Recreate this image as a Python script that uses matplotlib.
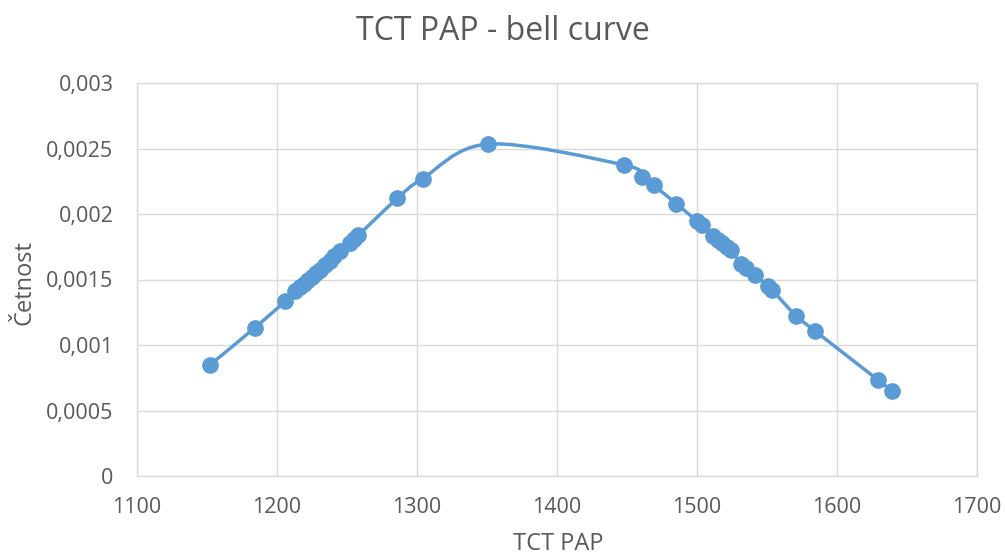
import matplotlib
matplotlib.use("Agg")
import matplotlib.pyplot as plt
from matplotlib.path import Path
from matplotlib.patches import PathPatch
from matplotlib.ticker import FixedLocator, FuncFormatter

plt.rcParams['font.family'] = ['Open Sans', 'DejaVu Sans']

title = "TCT PAP - bell curve"
x_label = "TCT PAP"
y_label = "Četnost"

tct_pap = [1152, 1184, 1206, 1213, 1216.4, 1219.3, 1222, 1225, 1228, 1231, 1234,
           1238, 1241, 1245, 1252, 1255, 1258, 1286, 1304, 1351, 1448, 1461,
           1469, 1485, 1500, 1503.6, 1511.4, 1515, 1517.9, 1521.4, 1524.3,
           1531.5, 1535, 1541.4, 1550.7, 1553.6, 1571, 1584, 1629.3, 1639.3]
cetnost = [0.000847, 0.00113, 0.001336, 0.00141, 0.001439, 0.001466, 0.001494,
           0.001521, 0.001549, 0.001576, 0.001611, 0.001645, 0.001679, 0.001714,
           0.001782, 0.00181, 0.001837, 0.00212, 0.00227, 0.002534, 0.002374,
           0.00228, 0.00222, 0.00208, 0.001947, 0.001916, 0.001832, 0.001802,
           0.001779, 0.001748, 0.001725, 0.001618, 0.001588, 0.001534, 0.00145,
           0.00142, 0.00122, 0.00111, 0.000733, 0.000649]

x_ticks = [1100, 1200, 1300, 1400, 1500, 1600, 1700]
y_ticks = [0, 0.0005, 0.001, 0.0015, 0.002, 0.0025, 0.003]

blue = "#5B9BD5"
grey_text = "#595959"
grid = "#D9D9D9"

fig = plt.figure(figsize=(10.05, 5.55), dpi=100)
ax = fig.add_axes([137/1005, 1 - 476/555, 840/1005, 393/555])

# Smoothed line (Catmull-Rom style Bezier, as Excel's smoothed scatter)
pts = list(zip(tct_pap, cetnost))
n = len(pts)
verts = [pts[0]]
codes = [Path.MOVETO]
for i in range(n - 1):
    p0 = pts[i - 1] if i > 0 else pts[i]
    p1 = pts[i]
    p2 = pts[i + 1]
    p3 = pts[i + 2] if i + 2 < n else pts[i + 1]
    c1 = (p1[0] + (p2[0] - p0[0]) / 6, p1[1] + (p2[1] - p0[1]) / 6)
    c2 = (p2[0] - (p3[0] - p1[0]) / 6, p2[1] - (p3[1] - p1[1]) / 6)
    verts += [c1, c2, p2]
    codes += [Path.CURVE4] * 3
ax.add_patch(PathPatch(Path(verts, codes), facecolor='none', edgecolor=blue,
                       lw=2.5, zorder=3, capstyle='round', joinstyle='round'))
ax.plot(tct_pap, cetnost, linestyle='none', marker='o', markersize=11,
        color=blue, zorder=4)

ax.set_xlim(1100, 1700)
ax.set_ylim(0, 0.003)
ax.xaxis.set_major_locator(FixedLocator(x_ticks))
ax.yaxis.set_major_locator(FixedLocator(y_ticks))

def fmt_y(v, pos):
    if v == 0:
        return "0"
    s = ("%.4f" % v).rstrip('0')
    return s.replace('.', ',')

ax.yaxis.set_major_formatter(FuncFormatter(fmt_y))
ax.xaxis.set_major_formatter(FuncFormatter(lambda v, p: "%d" % v))

ax.grid(True, color=grid, lw=1.0, zorder=0)
ax.set_axisbelow(True)
for s in ax.spines.values():
    s.set_color(grid)
    s.set_linewidth(1.0)
ax.tick_params(length=0, labelsize=15.5, colors=grey_text)
ax.tick_params(axis='x', pad=15)
ax.tick_params(axis='y', pad=17)

fig.text(558/1005, 1 - 544/555, x_label, ha='center', va='center',
         fontsize=17, color=grey_text)
fig.text(24/1005, 1 - 283/555, y_label, ha='center', va='center',
         rotation=90, fontsize=17, color=grey_text)
fig.text(503/1005, 1 - 31/555, title, ha='center', va='center', fontsize=23,
         color=grey_text)

fig.savefig("out.png", dpi=100)
